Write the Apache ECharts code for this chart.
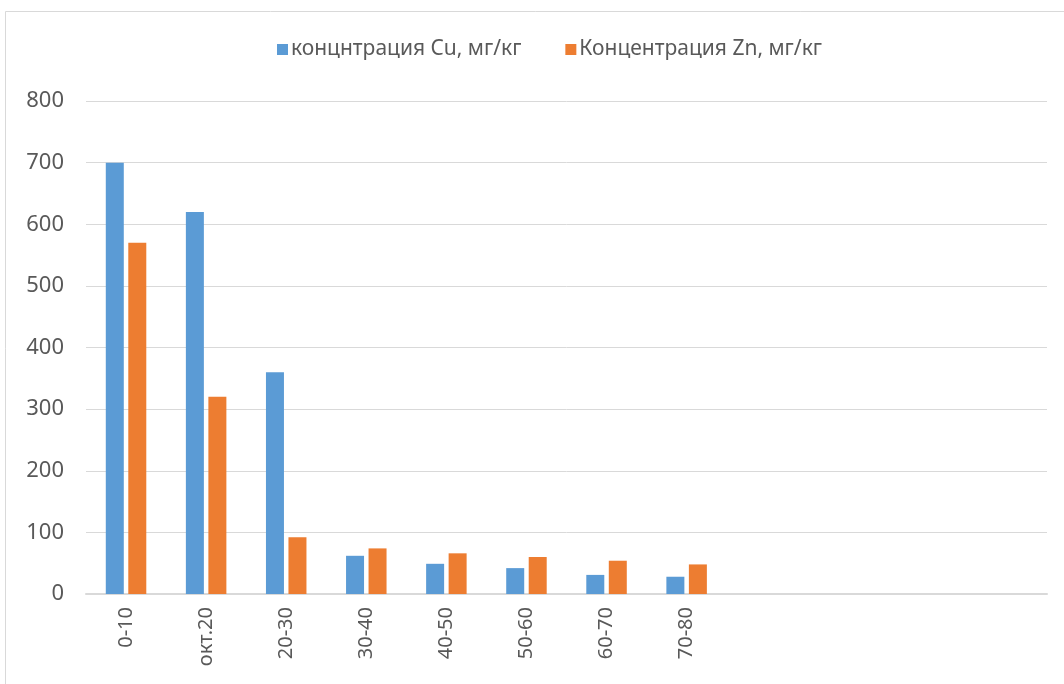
<!DOCTYPE html>
<html>
<head>
<meta charset="utf-8">
<script src="https://cdn.jsdelivr.net/npm/echarts@6/dist/echarts.min.js"></script>
<style>
  html, body { margin: 0; padding: 0; background: #fff; }
  #main { width: 1064px; height: 684px; }
</style>
</head>
<body>
<div id="main"></div>
<script>
// категории (глубина), последние 4 пустые как в исходной диаграмме
const categories = ['0-10', 'окт.20', '20-30', '30-40', '40-50', '50-60', '60-70', '70-80', '', '', '', ''];
const cuValues = [700, 620, 360, 62, 49, 42, 31, 28];
const znValues = [570, 320, 92, 74, 66, 60, 54, 48];
const yTicks = [0, 100, 200, 300, 400, 500, 600, 700, 800];

const seriesNames = ['концнтрация Cu, мг/кг', 'Концентрация Zn, мг/кг'];
const textColor = '#595959';
const gridColor = '#d9d9d9';
const font = 'Noto Sans';

const chart = echarts.init(document.getElementById('main'), null, { renderer: 'canvas' });

const option = {
    backgroundColor: '#fff',
    animation: false,
    textStyle: { fontFamily: font },
    graphic: [
        {
            type: 'rect',
            shape: { x: 5.5, y: 11.5, width: 1080, height: 700 },
            style: { fill: 'none', stroke: gridColor, lineWidth: 1 },
            silent: true
        }
    ],
    legend: {
        top: 34,
        left: 272,
        itemWidth: 11,
        itemHeight: 11,
        itemGap: 44,
        icon: 'rect',
        textStyle: { color: textColor, fontSize: 21, fontFamily: font, padding: [0, 0, 0, -2] },
        data: seriesNames
    },
    grid: {
        left: 86,
        right: 17,
        top: 101,
        bottom: 90,
        containLabel: false
    },
    xAxis: {
        type: 'category',
        data: categories,
        axisTick: { show: false },
        axisLine: { lineStyle: { color: gridColor, width: 2 } },
        axisLabel: {
            rotate: 90,
            margin: 13,
            color: textColor,
            fontSize: 20,
            fontFamily: font,
            interval: 0
        }
    },
    yAxis: {
        type: 'value',
        min: yTicks[0],
        max: yTicks[yTicks.length - 1],
        interval: 100,
        axisLine: { show: false },
        axisTick: { show: false },
        splitLine: { lineStyle: { color: gridColor, width: 1 } },
        axisLabel: {
            color: textColor,
            fontSize: 22,
            fontFamily: font,
            margin: 22
        }
    },
    series: [
        {
            name: seriesNames[0],
            type: 'bar',
            data: cuValues,
            barWidth: 18,
            barGap: '25%',
            itemStyle: { color: '#5b9bd5' }
        },
        {
            name: seriesNames[1],
            type: 'bar',
            data: znValues,
            barWidth: 18,
            itemStyle: { color: '#ed7d31' }
        }
    ]
};

chart.setOption(option);
</script>
</body>
</html>
